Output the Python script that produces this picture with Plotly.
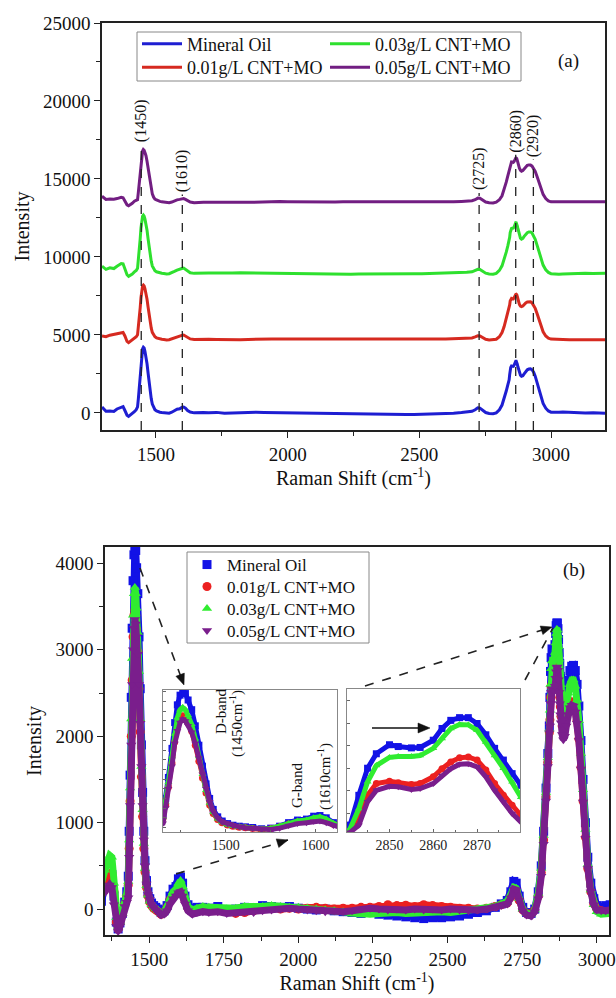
import plotly.graph_objects as go

# ---------------- data ----------------
wavenumber = [
    1295, 1310, 1325, 1340, 1352, 1360, 1368, 1375, 1382, 1390, 1396, 1402, 1410, 1418, 1425,
    1430, 1433, 1436, 1440, 1443, 1446, 1449, 1452, 1455, 1458, 1462, 1466, 1470, 1474, 1478, 1482, 1486, 1491, 1496, 1502, 1508, 1515, 1522, 1530,
    1540, 1550, 1560, 1570, 1580, 1590, 1598, 1605, 1612, 1620, 1630, 1645, 1660,
    1680, 1700, 1730, 1760, 1790, 1820, 1850, 1880, 1910, 1940, 1970, 2000,
    2030, 2060, 2090, 2120, 2150, 2180, 2210, 2240, 2270, 2300, 2330, 2360,
    2390, 2420, 2450, 2480, 2510, 2540, 2570, 2600, 2630, 2660, 2680, 2700,
    2712, 2722, 2730, 2740, 2752, 2765, 2780, 2792, 2804, 2814, 2822, 2830, 2836,
    2841, 2843, 2845, 2847, 2850, 2852, 2855, 2857, 2860, 2862, 2864, 2866, 2868, 2870, 2872, 2874, 2876, 2878, 2880,
    2884, 2888, 2893, 2898, 2904, 2910, 2916, 2922, 2928, 2934, 2940, 2947, 2954, 2962, 2970, 2980, 2990, 3000,
    3015, 3030, 3045, 3070, 3100, 3130, 3160, 3205,
]

mineral_oil = [
    380, 100, 120, 90, 250, 300, 330, 400, 150, -150, -230, -160, -50, 80, 200,
    380, 900, 1550, 2450, 3250, 3800, 4100, 4200, 4150, 3950, 3650, 3150, 2550, 1900, 1350, 900, 560, 330, 200, 120, 70, 40, 20, 0,
    -40, -20, 40, 150, 230, 260, 350, 370, 300, 150, 50, 0, 20,
    20, 10, 30, -20, 0, 20, 10, 40, 30, 20, 30, 10,
    0, -10, 0, -20, -30, -40, -50, -40, -60, -70, -80, -90,
    -100, -110, -100, -100, -90, -80, -60, -40, -20, 20, 60, 100,
    200, 320, 300, 150, 20, -40, -50, 0, 200, 500, 900, 1400, 1800,
    2120, 2450, 2750, 2910, 3010, 2990, 2975, 2980, 3060, 3190, 3280, 3310, 3310, 3245, 3120, 2970, 2840, 2690, 2560,
    2420, 2350, 2380, 2500, 2650, 2760, 2810, 2820, 2760, 2600, 2350, 1950, 1500, 1000, 600, 300, 120, 40,
    20, 40, 50, 20, 0, -10, 0, -20,
]

cnt_001 = [
    200, 150, 250, 300, 320, 330, 400, 420, 200, -150, -230, -160, -60, 60, 150,
    280, 700, 1250, 2000, 2650, 3150, 3400, 3460, 3400, 3240, 2980, 2550, 2050, 1530, 1070, 700, 430, 250, 150, 80, 40, 10, -10, -30,
    -60, -40, 20, 110, 170, 190, 240, 260, 200, 100, 10, -30, -20,
    0, -10, -20, -30, -50, -40, -20, 0, 10, 0, 10, 0,
    10, 20, 10, 0, 10, 10, 20, 20, 30, 50, 40, 45,
    30, 50, 40, 30, 20, 10, 10, 0, 10, 30, 50, 70,
    140, 210, 200, 100, -10, -50, -50, -10, 150, 420, 800, 1300, 1700,
    2040, 2190, 2450, 2580, 2605, 2590, 2570, 2580, 2655, 2745, 2820, 2865, 2875, 2840, 2730, 2580, 2450, 2340, 2230,
    2120, 2080, 2120, 2220, 2320, 2380, 2400, 2390, 2320, 2180, 1970, 1640, 1250, 830, 470, 200, 60, 0,
    -20, -30, -30, -40, -30, -40, -30, -40,
]

cnt_003 = [
    450, 250, 350, 300, 450, 550, 620, 600, 300, -100, -200, -150, -50, 80, 180,
    320, 800, 1400, 2200, 2900, 3400, 3650, 3720, 3650, 3480, 3200, 2750, 2200, 1650, 1150, 760, 470, 270, 160, 90, 50, 20, 0, -20,
    -50, -30, 30, 120, 200, 230, 300, 330, 260, 130, 30, -10, 10,
    30, 20, 10, 0, 10, 30, 20, 30, 40, 30, 20, 20,
    10, 0, -10, -20, -30, -60, -70, -60, -50, -40, -40, -50,
    -40, -50, -40, -30, -40, -30, -20, -10, 0, 30, 60, 90,
    170, 250, 240, 120, 0, -50, -60, -10, 180, 470, 850, 1350, 1750,
    2080, 2300, 2600, 2780, 2870, 2880, 2880, 2890, 2970, 3080, 3190, 3235, 3230, 3170, 3040, 2890, 2750, 2600, 2430,
    2250, 2180, 2230, 2360, 2500, 2600, 2650, 2650, 2580, 2420, 2180, 1800, 1380, 920, 520, 220, 50, -30,
    -60, -60, -50, -30, -20, -10, -20, -10,
]

cnt_005 = [
    350, 150, 180, 160, 200, 260, 280, 250, 50, -200, -260, -200, -100, 30, 80,
    130, 600, 1200, 1900, 2600, 3000, 3250, 3350, 3300, 3150, 2950, 2600, 2150, 1650, 1200, 800, 500, 290, 170, 110, 50, 20, -10, -30,
    -70, -60, -20, 60, 120, 150, 190, 200, 150, 60, -20, -60, -40,
    -30, -40, -30, -50, -40, -30, -40, -20, -10, 0, 10, 0,
    -10, -20, -30, -20, -30, -20, 0, 10, 0, -10, 0, -10,
    0, -10, 0, -10, 0, -10, -20, -10, 0, 20, 40, 60,
    130, 230, 220, 100, -20, -70, -80, -30, 120, 380, 750, 1250, 1650,
    2040, 2120, 2380, 2505, 2550, 2545, 2515, 2525, 2580, 2670, 2745, 2795, 2800, 2765, 2655, 2505, 2375, 2250, 2155,
    2020, 1960, 2000, 2120, 2250, 2330, 2360, 2350, 2280, 2150, 1950, 1620, 1240, 820, 470, 200, 50, -10,
    -20, -20, -10, 0, -10, 0, -10, 0,
]

series_names = ["Mineral Oil", "0.01g/L CNT+MO", "0.03g/L CNT+MO", "0.05g/L CNT+MO"]
stack_offsets = [0, 4730, 8955, 13540]          # vertical offsets used in panel (a)
peak_positions = [1444, 1600, 2727, 2866, 2933]  # dashed marker lines in panel (a)
peak_labels = ["(1450)", "(1610)", "(2725)", "(2860)", "(2920)"]

# ---------------- styling ----------------
SERIF = "Liberation Serif, Times New Roman, DejaVu Serif, serif"
W, H = 616, 998
line_colors = ["#1e1ed2", "#d62a20", "#2ee02e", "#721e82"]
mark_colors = ["#1212e6", "#ec2020", "#30ec30", "#7a1e8c"]
symbols = ["square", "circle", "triangle-up", "triangle-down"]
label_y = [18720, 15510, 15640, 18080, 17760]
line_top = [17250, 14000, 14100, 16550, 16250]
# single-entry legend positions (pixel) for panel (a): (x_left, y_center)
legend_a_pos = [(137, 44), (137, 67.5), (325, 44), (325, 67.5)]
# panel (b): rows of the framed legend
legend_b_pos = [(187, 565), (187, 587), (187, 609), (187, 631)]

def px(x):
    return x / W

def py(y):
    return 1 - y / H

all_series = [mineral_oil, cnt_001, cnt_003, cnt_005]
for s in all_series:
    assert len(s) == len(wavenumber), len(s)

fig = go.Figure()

legend_ids_a = ["legend", "legend2", "legend3", "legend4"]
legend_ids_b = ["legend5", "legend6", "legend7", "legend8"]

# ---- panel (a): stacked lines ----
for i, (name, vals) in enumerate(zip(series_names, all_series)):
    fig.add_trace(go.Scatter(
        x=wavenumber, y=[v + stack_offsets[i] for v in vals], mode="lines",
        name=name, line=dict(color=line_colors[i], width=3),
        xaxis="x", yaxis="y", legend=legend_ids_a[i], showlegend=True,
    ))

# ---- panel (b): overlaid marker series ----
for i, (name, vals) in enumerate(zip(series_names, all_series)):
    fig.add_trace(go.Scatter(
        x=wavenumber, y=vals, mode="lines", line=dict(color=mark_colors[i], width=7),
        xaxis="x2", yaxis="y2", showlegend=False, hoverinfo="skip",
    ))
    fig.add_trace(go.Scatter(
        x=wavenumber, y=vals, mode="markers", name=name,
        marker=dict(color=mark_colors[i], size=9, symbol=symbols[i], line=dict(width=0)),
        xaxis="x2", yaxis="y2", legend=legend_ids_b[i], showlegend=True,
    ))

# ---- insets ----
for ax_x, ax_y in (("x3", "y3"), ("x4", "y4")):
    for i, vals in enumerate(all_series):
        fig.add_trace(go.Scatter(
            x=wavenumber, y=vals, mode="lines", line=dict(color=mark_colors[i], width=5),
            xaxis=ax_x, yaxis=ax_y, showlegend=False, hoverinfo="skip",
        ))
        fig.add_trace(go.Scatter(
            x=wavenumber, y=vals, mode="markers",
            marker=dict(color=mark_colors[i], size=7, symbol=symbols[i], line=dict(width=0)),
            xaxis=ax_x, yaxis=ax_y, showlegend=False, hoverinfo="skip",
        ))

axis_common = dict(showgrid=False, zeroline=False, showline=True, mirror=True,
                   linecolor="#222", linewidth=1.5, ticks="outside", ticklen=6,
                   tickwidth=1.2, tickcolor="#222", automargin=False, tickformat="d",
                   tickfont=dict(family=SERIF, size=19, color="#111"))
inset_common = dict(showgrid=False, zeroline=False, showline=True, mirror=True,
                    linecolor="#888", linewidth=1, ticks="inside", ticklen=3,
                    tickwidth=1, tickcolor="#666", automargin=False, tickformat="d",
                    tickfont=dict(family=SERIF, size=14, color="#222"))
title_font = dict(family=SERIF, size=20, color="#111")

legends = {}
for lid, (lx, ly) in zip(legend_ids_a, legend_a_pos):
    legends[lid] = dict(x=px(lx), y=py(ly), xanchor="left", yanchor="middle",
                        bgcolor="rgba(0,0,0,0)", borderwidth=0, itemwidth=40,
                        font=dict(family=SERIF, size=18, color="#111"))
for lid, (lx, ly) in zip(legend_ids_b, legend_b_pos):
    legends[lid] = dict(x=px(lx), y=py(ly), xanchor="left", yanchor="middle",
                        bgcolor="rgba(0,0,0,0)", borderwidth=0, itemwidth=30,
                        font=dict(family=SERIF, size=17, color="#111"))

fig.update_layout(
    width=W, height=H, template="none",
    margin=dict(l=0, r=0, t=0, b=0),
    paper_bgcolor="white", plot_bgcolor="white",
    font=dict(family=SERIF, color="#111"),
    xaxis=dict(axis_common, domain=[px(102), px(605)], anchor="y", range=[1295, 3205],
               tickmode="linear", tick0=0, dtick=500,
               minor=dict(ticks="outside", ticklen=4, dtick=250, tick0=0, tickcolor="#222"),
               title=dict(text="Raman Shift (cm<sup>-1</sup>)", font=title_font, standoff=6)),
    yaxis=dict(axis_common, domain=[py(430), py(23)], anchor="x", range=[-1100, 25000],
               tickmode="linear", tick0=0, dtick=5000,
               minor=dict(ticks="outside", ticklen=4, dtick=2500, tick0=0, tickcolor="#222"),
               title=dict(text="Intensity", font=title_font, standoff=8)),
    xaxis2=dict(axis_common, domain=[px(105), px(609)], anchor="y2", range=[1352, 3041],
                tickmode="linear", tick0=0, dtick=250,
                minor=dict(ticks="outside", ticklen=4, dtick=125, tick0=0, tickcolor="#222"),
                title=dict(text="Raman Shift (cm<sup>-1</sup>)", font=title_font, standoff=6)),
    yaxis2=dict(axis_common, domain=[py(935), py(547)], anchor="x2", range=[-300, 4190],
                tickmode="linear", tick0=0, dtick=1000,
                minor=dict(ticks="outside", ticklen=4, dtick=500, tick0=0, tickcolor="#222"),
                title=dict(text="Intensity", font=title_font, standoff=8)),
    xaxis3=dict(inset_common, domain=[px(163), px(337)], anchor="y3", range=[1430, 1624],
                tickmode="linear", tick0=0, dtick=100,
                minor=dict(ticks="inside", ticklen=2, dtick=50, tick0=0, tickcolor="#666")),
    yaxis3=dict(inset_common, domain=[py(832), py(690)], anchor="x3", range=[-140, 4260],
                showticklabels=False, tickmode="linear", tick0=0, dtick=300),
    xaxis4=dict(inset_common, domain=[px(347), px(520)], anchor="y4", range=[2840.3, 2879.8],
                tickmode="linear", tick0=0, dtick=10,
                minor=dict(ticks="inside", ticklen=2, dtick=5, tick0=0, tickcolor="#666")),
    yaxis4=dict(inset_common, domain=[py(832), py(689)], anchor="x4", range=[2044, 3627],
                showticklabels=False, tickmode="linear", tick0=0, dtick=250),
    showlegend=True,
    **legends,
)

shapes = []
# legend frames
shapes.append(dict(type="rect", xref="paper", yref="paper", x0=px(137), x1=px(521),
                   y0=py(81), y1=py(32), line=dict(color="#888", width=1)))
shapes.append(dict(type="rect", xref="paper", yref="paper", x0=px(187), x1=px(369),
                   y0=py(643), y1=py(552), line=dict(color="#888", width=1),
                   fillcolor="white", layer="above"))
# dashed peak lines in panel (a)
for xpos, top in zip(peak_positions, line_top):
    shapes.append(dict(type="line", xref="x", yref="y", x0=xpos, x1=xpos, y0=-1100, y1=top,
                       line=dict(color="#222", width=1.3, dash="dash"), layer="above"))


def arrow_head(x0, y0, x1, y1, length=11, half=4.5):
    dx, dy = x1 - x0, y1 - y0
    ln = (dx * dx + dy * dy) ** 0.5
    ux, uy = dx / ln, dy / ln
    nx, ny = -uy, ux
    bx, by = x1 - ux * length, y1 - uy * length
    pts = [(x1, y1), (bx + nx * half, by + ny * half), (bx - nx * half, by - ny * half)]
    path = "M {} {} L {} {} L {} {} Z".format(*[v for p in pts for v in (px(p[0]), py(p[1]))])
    return dict(type="path", xref="paper", yref="paper", path=path,
                fillcolor="#111", line=dict(color="#111", width=0.5), layer="above")


# dashed connector lines in panel (b)  (pixel coords)
connectors = [((140, 568), (184, 685), True),
              ((176, 874), (288, 840), True),
              ((365, 686), (552, 627), True),
              ((525, 680), (553, 628), False)]
for (x0, y0), (x1, y1), head in connectors:
    shapes.append(dict(type="line", xref="paper", yref="paper", x0=px(x0), y0=py(y0),
                       x1=px(x1), y1=py(y1), line=dict(color="#222", width=1.6, dash="dash"),
                       layer="above"))
    if head:
        shapes.append(arrow_head(x0, y0, x1, y1))

# solid arrow in the second inset
shapes.append(dict(type="line", xref="paper", yref="paper", x0=px(372), y0=py(728),
                   x1=px(420), y1=py(728), line=dict(color="#111", width=1.5), layer="above"))
shapes.append(arrow_head(372, 728, 430, 728, length=12, half=5))

annotations = []
# peak labels panel (a)
for xpos, lab, ly in zip(peak_positions, peak_labels, label_y):
    annotations.append(dict(xref="x", yref="y", x=xpos, y=ly, text=lab, textangle=-90,
                            showarrow=False, font=dict(family=SERIF, size=16, color="#111")))

annotations.append(dict(xref="paper", yref="paper", x=px(581), y=py(48), text="(a)",
                        showarrow=False, font=dict(family=SERIF, size=19, color="#111")))
annotations.append(dict(xref="paper", yref="paper", x=px(587), y=py(570), text="(b)",
                        showarrow=False, font=dict(family=SERIF, size=19, color="#111")))
inset_texts = [("D-band", 221, 712), ("(1450cm<sup>-1</sup>)", 236, 724),
               ("G-band", 297, 786), ("(1610cm<sup>-1</sup>)", 324, 777)]
for txt, tx, ty in inset_texts:
    annotations.append(dict(xref="paper", yref="paper", x=px(tx), y=py(ty), text=txt,
                            textangle=-90, xanchor="center", yanchor="middle",
                            showarrow=False, font=dict(family=SERIF, size=15, color="#111")))

fig.update_layout(shapes=shapes, annotations=annotations)
fig.write_html("out.html")
